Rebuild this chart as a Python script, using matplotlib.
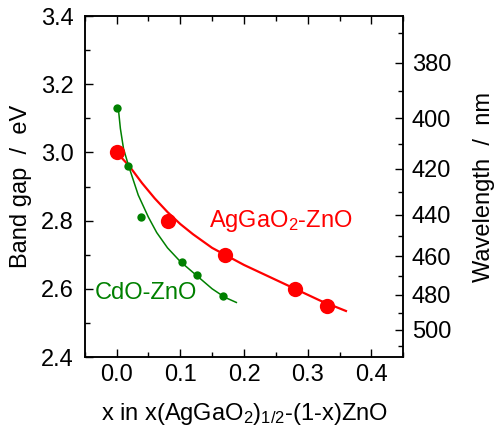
import numpy as np
import matplotlib
matplotlib.use("Agg")
import matplotlib.pyplot as plt
from matplotlib.ticker import MultipleLocator, FixedLocator

plt.rcParams["font.family"] = ["Liberation Sans", "DejaVu Sans"]
plt.rcParams["mathtext.default"] = "regular"

# measured points
x_ag = [0.0, 0.08, 0.17, 0.28, 0.33]
eg_ag = [3.00, 2.80, 2.70, 2.60, 2.55]
x_cd = [0.0, 0.018, 0.038, 0.103, 0.126, 0.167]
eg_cd = [3.13, 2.96, 2.81, 2.68, 2.64, 2.58]

# fitted curves
fit_x_ag = [0.0, 0.02, 0.04, 0.06, 0.08, 0.10, 0.12, 0.15, 0.17, 0.20, 0.24, 0.28, 0.32, 0.36]
fit_y_ag = [3.00, 2.96, 2.91, 2.865, 2.825, 2.79, 2.76, 2.72, 2.70, 2.67, 2.635, 2.60, 2.565, 2.535]
fit_x_cd = [0.003, 0.006, 0.011, 0.019, 0.034, 0.05, 0.063, 0.08, 0.10, 0.125, 0.15, 0.17, 0.188]
fit_y_cd = [3.125, 3.07, 3.01, 2.96, 2.875, 2.81, 2.765, 2.72, 2.68, 2.64, 2.60, 2.575, 2.56]

wl_major = [380, 400, 420, 440, 460, 480, 500]
wl_minor = [370, 390, 410, 430, 450, 470, 490, 510]
HC = 1239.84  # eV nm

RED = "#ff0000"
GREEN = "#008000"
FS = 17

fig = plt.figure(figsize=(5.0, 4.29), dpi=100)
ax = fig.add_axes([0.1694, 0.1678, 0.6372, 0.7949])

ax.plot(fit_x_ag, fit_y_ag, color=RED, lw=1.6, zorder=2)
ax.plot(fit_x_cd, fit_y_cd, color=GREEN, lw=1.1, zorder=2)
ax.plot(x_ag, eg_ag, "o", color=RED, ms=11, mec="none", zorder=3)
ax.plot(x_cd, eg_cd, "o", color=GREEN, ms=6, mec="none", zorder=3)

ax.text(0.145, 2.80, "AgGaO$_2$-ZnO", color=RED, fontsize=FS, va="center", ha="left")
ax.text(-0.035, 2.588, "CdO-ZnO", color=GREEN, fontsize=FS, va="center", ha="left")

ax.set_xlim(-0.05, 0.45)
ax.set_ylim(2.4, 3.4)
ax.xaxis.set_major_locator(MultipleLocator(0.1))
ax.xaxis.set_minor_locator(MultipleLocator(0.05))
ax.yaxis.set_major_locator(MultipleLocator(0.2))
ax.yaxis.set_minor_locator(MultipleLocator(0.1))
ax.xaxis.set_major_formatter(matplotlib.ticker.FormatStrFormatter("%.1f"))
ax.yaxis.set_major_formatter(matplotlib.ticker.FormatStrFormatter("%.1f"))
ax.tick_params(which="both", direction="in", top=True, right=False, width=1.0)
ax.tick_params(which="major", length=6, labelsize=FS)
ax.tick_params(which="minor", length=3.5)
ax.tick_params(axis="y", which="major", pad=8)
ax.tick_params(axis="x", which="major", pad=5)

ax.set_xlabel("x in x(AgGaO$_2$)$_{1/2}$-(1-x)ZnO", fontsize=FS, labelpad=11)
ax.set_ylabel("Band gap  /  eV", fontsize=FS, labelpad=6)

# wavelength axis on the right
ax2 = ax.twinx()
ax2.set_ylim(ax.get_ylim())
ax2.yaxis.set_major_locator(FixedLocator([HC / w for w in wl_major]))
ax2.yaxis.set_minor_locator(FixedLocator([HC / w for w in wl_minor]))
ax2.set_yticklabels([str(w) for w in wl_major])
ax2.tick_params(which="both", direction="in", width=1.0)
ax2.tick_params(which="major", length=6, labelsize=FS, pad=6)
ax2.tick_params(which="minor", length=3.5)
ax2.set_ylabel("Wavelength  /  nm", fontsize=FS, labelpad=16)

for a in (ax, ax2):
    for s in a.spines.values():
        s.set_linewidth(1.1)

fig.savefig("out.png", dpi=100)
